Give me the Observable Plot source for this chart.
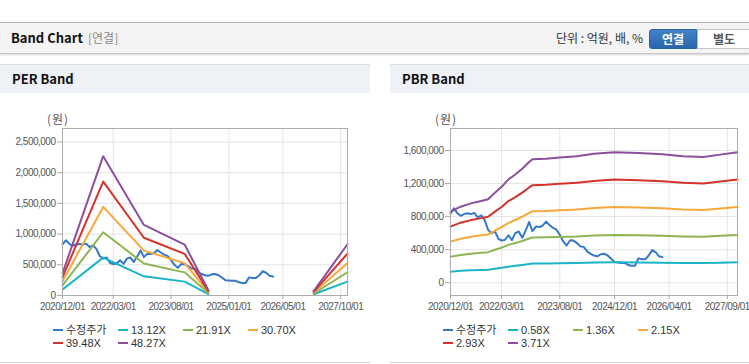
<!DOCTYPE html>
<html><head><meta charset="utf-8">
<script src="https://cdn.jsdelivr.net/npm/d3@7"></script>
<script src="https://cdn.jsdelivr.net/npm/@observablehq/plot@0.6"></script>
<style>
html,body{margin:0;padding:0;background:#fff;overflow:hidden;}
body{width:749px;height:364px;position:relative;font-family:"Liberation Sans",Arial,"Noto Sans CJK KR",sans-serif;}
.abs{position:absolute;}
#hdr{left:0;top:22px;width:749px;height:30px;background:#f4f4f4;border-top:1px solid #b9b9b9;border-bottom:1px solid #c8c8c8;box-shadow:0 1px 2px rgba(0,0,0,0.18);}
.kr{font-family:"Noto Sans CJK KR","Liberation Sans",sans-serif;}
#title{left:11px;top:7px;font-size:13px;font-weight:bold;color:#111;line-height:16px;}
#sub{left:88px;top:7px;font-size:12px;color:#888;line-height:16px;}
#unit{right:106px;top:7px;font-size:12px;color:#333;line-height:16px;}
#b1{left:649px;top:6px;width:48px;height:20px;background:linear-gradient(#4283c8,#2a66ab);border:1px solid #2a62a3;border-radius:3px 0 0 3px;color:#fff;font-weight:bold;font-size:12px;text-align:center;line-height:18px;box-sizing:border-box;}
#b2{left:697px;top:6px;width:54px;height:20px;background:#fff;border:1px solid #c4c4c4;color:#555;font-weight:bold;font-size:12px;text-align:center;line-height:18px;box-sizing:border-box;}
.ph{top:64px;height:28px;background:#eef2f7;border-top:1px solid #dcdcdc;}
.ph span{position:absolute;left:12px;top:6px;font-size:13px;font-weight:bold;color:#111;line-height:16px;}
.unitlab{font-size:12px;color:#555;top:110px;letter-spacing:1px;}
.legend{top:323px;width:270px;font-size:11px;color:#333;line-height:13px;}
.li{display:inline-block;width:65px;white-space:nowrap;}
.sw{display:inline-block;width:10px;height:2px;vertical-align:middle;margin-right:3px;position:relative;top:-1px;}
.bl{height:1px;background:#d8d8d8;top:362px;}
svg{overflow:visible;}
</style>
</head><body>
<div id="hdr" class="abs">
  <div id="title" class="abs kr">Band Chart</div>
  <div id="sub" class="abs kr">[연결]</div>
  <div id="unit" class="abs kr">단위 : 억원, 배, %</div>
  <div id="b1" class="abs kr">연결</div>
  <div id="b2" class="abs kr">별도</div>
</div>
<div class="abs ph" style="left:0;width:370px;"><span class="kr">PER Band</span></div>
<div class="abs ph" style="left:390px;width:359px;"><span class="kr">PBR Band</span></div>
<div class="abs unitlab kr" style="left:47px;">(원)</div>
<div class="abs unitlab kr" style="left:435px;">(원)</div>
<div id="perChart" class="abs" style="left:0;top:100px;"></div>
<div id="pbrChart" class="abs" style="left:390px;top:100px;"></div>
<div id="perLegend" class="abs legend" style="left:53px;"></div>
<div id="pbrLegend" class="abs legend" style="left:443px;"></div>
<div class="abs bl" style="left:0;width:370px;"></div>
<div class="abs bl" style="left:390px;width:359px;"></div>
<script>
// ---------- data ----------
const priceDates = ["2020-12","2021-01","2021-02","2021-03","2021-04","2021-05","2021-06","2021-07","2021-08","2021-09","2021-10","2021-11","2021-12",
 "2022-01","2022-02","2022-03","2022-04","2022-05","2022-06","2022-07","2022-08","2022-09","2022-10","2022-11","2022-12",
 "2023-01","2023-02","2023-03","2023-04","2023-05","2023-06","2023-07","2023-08","2023-09","2023-10","2023-11","2023-12",
 "2024-01","2024-02","2024-03","2024-04","2024-05","2024-06","2024-07","2024-08","2024-09","2024-10","2024-11","2024-12",
 "2025-01","2025-02","2025-03","2025-04","2025-05","2025-06","2025-07","2025-08","2025-09","2025-10","2025-11","2025-12","2026-01","2026-02"];
const priceValues = [835000,900000,840000,810000,830000,840000,830000,845000,790000,815000,760000,640000,600000,
 620000,530000,510000,520000,575000,515000,600000,620000,545000,630000,735000,625000,
 680000,675000,690000,740000,700000,665000,645000,580000,500000,450000,515000,510000,
 480000,440000,435000,380000,350000,330000,320000,345000,350000,330000,290000,250000,
 245000,240000,240000,215000,205000,205000,295000,285000,285000,330000,395000,370000,320000,310000];

// PER band knots (NaN = no data gap)
const perDates = ["2020-12","2021-12","2022-12","2023-12","2024-07","2025-10","2027-02","2027-12"];
const per1312 = [98000,617000,312000,226000,24000,NaN,20000,227000];
const per2191 = [164000,1030000,521000,377000,39000,NaN,33000,379000];
const per3070 = [230000,1443000,731000,528000,55000,NaN,46000,531000];
const per3948 = [296000,1856000,940000,679000,71000,NaN,59000,683000];
const per4827 = [362000,2269000,1149000,830000,87000,NaN,72000,835000];
const perLabels = ["수정주가","13.12X","21.91X","30.70X","39.48X","48.27X"];
const perTicks = ["2020-12-01","2022-03-01","2023-08-01","2025-01-01","2026-05-01","2027-10-01"];
const perYTicks = [0,500000,1000000,1500000,2000000,2500000];

// PBR band knots
const pbrDates = ["2020-12","2021-03","2021-06","2021-09","2021-11","2022-01","2022-03","2022-05","2022-07","2022-09","2022-11","2022-12",
 "2023-04","2023-08","2024-01","2024-06","2024-12","2025-07","2026-02","2026-08","2027-02","2027-07","2027-12"];
const pbr058 = [134000,144000,150000,155000,158000,170000,181000,195000,205000,216000,228000,234000,234000,237000,239000,244000,247000,245000,243000,239000,238000,242000,247000];
const pbr136 = [315000,337000,352000,363000,370000,400000,425000,458000,480000,506000,535000,548000,550000,555000,561000,572000,579000,576000,570000,561000,557000,568000,579000];
const pbr215 = [498000,533000,556000,574000,585000,632000,672000,724000,759000,800000,846000,866000,869000,878000,887000,904000,916000,910000,901000,887000,881000,898000,916000];
const pbr293 = [679000,727000,758000,782000,798000,861000,916000,988000,1035000,1090000,1153000,1181000,1185000,1197000,1209000,1232000,1248000,1240000,1228000,1209000,1201000,1225000,1248000];
const pbr371 = [860000,920000,960000,990000,1010000,1090000,1160000,1250000,1310000,1380000,1460000,1495000,1500000,1515000,1530000,1560000,1580000,1570000,1555000,1530000,1520000,1550000,1580000];
const pbrLabels = ["수정주가","0.58X","1.36X","2.15X","2.93X","3.71X"];
const pbrTicks = ["2020-12-01","2022-03-01","2023-08-01","2024-12-01","2026-04-01","2027-09-01"];
const pbrYTicks = [0,400000,800000,1200000,1600000];

const colors = ["#3578c8","#1bb3c8","#8db650","#f6a83a","#d5322c","#8d4f9d"];

// ---------- helpers ----------
const parseM = s => new Date(s.length === 7 ? s + "-01T00:00:00Z" : s + "T00:00:00Z");
const rows = (dates, vals) => dates.map((d, i) => ({date: parseM(d), value: vals[i]}));
const fmtDate = d3.utcFormat("%Y/%m/%d");
const xDomain = [parseM("2020-12-01"), parseM("2027-12-01")];

function chart(series, ticks, yTicks, yDomain, opts) {
  const marks = [
    Plot.gridX(ticks.map(parseM), {stroke: "#e4e4e4", strokeOpacity: 1}),
    Plot.gridY(yTicks, {stroke: "#e4e4e4", strokeOpacity: 1}),
    Plot.axisX(ticks.map(parseM), {tickFormat: fmtDate, tickSize: 4, tickPadding: 3, stroke: "#aaa", fill: "#555", label: null, fontSize: 10}),
    Plot.axisY(yTicks, {tickFormat: d3.format(","), tickSize: 5, tickPadding: 2, stroke: "#aaa", fill: "#555", label: null, fontSize: 10}),
  ];
  series.forEach((s, i) => {
    marks.push(Plot.line(s, {x: "date", y: "value", stroke: colors[i], strokeWidth: 2, curve: "linear"}));
  });
  marks.push(Plot.frame({stroke: "#adadad"}));
  return Plot.plot({
    width: opts.width, height: 215,
    marginTop: 28, marginBottom: 20, marginLeft: opts.ml, marginRight: opts.mr,
    x: {type: "utc", domain: xDomain},
    y: {domain: yDomain},
    style: {fontFamily: "'Liberation Sans', Arial, sans-serif", fontSize: "10px", color: "#555", background: "transparent", overflow: "visible", letterSpacing: "-0.5px"},
    marks
  });
}

function legend(el, labels) {
  labels.forEach((l, i) => {
    const item = document.createElement("span");
    item.className = "li";
    item.innerHTML = `<span class="sw" style="background:${colors[i]}"></span><span class="${i===0?'kr':''}">${l}</span>`;
    el.appendChild(item);
  });
}

const perSeries = [rows(priceDates, priceValues), rows(perDates, per1312), rows(perDates, per2191), rows(perDates, per3070), rows(perDates, per3948), rows(perDates, per4827)];
const pbrSeries = [rows(priceDates, priceValues), rows(pbrDates, pbr058), rows(pbrDates, pbr136), rows(pbrDates, pbr215), rows(pbrDates, pbr293), rows(pbrDates, pbr371)];

document.getElementById("perChart").appendChild(chart(perSeries, perTicks, perYTicks, [0, 2720000], {width: 370, ml: 62, mr: 23}));
document.getElementById("pbrChart").appendChild(chart(pbrSeries, pbrTicks, pbrYTicks, [-154000, 1866000], {width: 359, ml: 60, mr: 12}));
legend(document.getElementById("perLegend"), perLabels);
legend(document.getElementById("pbrLegend"), pbrLabels);
</script>
</body></html>
